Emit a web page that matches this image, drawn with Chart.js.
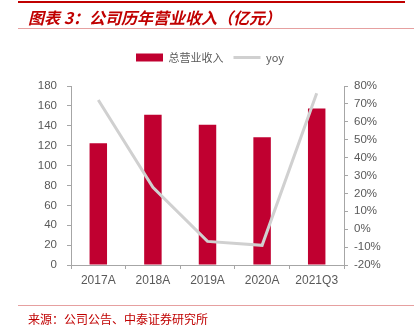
<!DOCTYPE html>
<html>
<head>
<meta charset="utf-8">
<script src="https://cdn.jsdelivr.net/npm/chart.js@4/dist/chart.umd.min.js"></script>
<style>
  html, body { margin: 0; padding: 0; background: #fff; }
  #wrap { position: relative; width: 418px; height: 332px; overflow: hidden; }
  #chart-box { position: absolute; left: 0; top: 0; width: 418px; height: 332px; }
  .rule { position: absolute; left: 18px; }
  #top-rule { top: 1px; width: 387px; height: 2px; background: #C00000; }
  #title-rule { top: 28px; width: 396px; height: 1px; background: #E6A0A0; }
  #foot-rule { top: 305px; width: 396px; height: 1px; background: #E6A0A0; }
  #title {
    position: absolute; left: 28px; top: 5px;
    font-family: "Noto Sans CJK SC", sans-serif; font-size: 16px;
    font-weight: bold; font-style: italic; color: #C00000; white-space: nowrap;
  }
  #source {
    position: absolute; left: 28px; top: 310px;
    font-family: "Noto Sans CJK SC", sans-serif; font-size: 12px;
    color: #C00000; white-space: nowrap;
  }
</style>
</head>
<body>
<div id="wrap">
  <div id="chart-box"><canvas id="revenue-chart"></canvas></div>
  <div class="rule" id="top-rule"></div>
  <div id="title">图表 3：公司历年营业收入（亿元）</div>
  <div class="rule" id="title-rule"></div>
  <div class="rule" id="foot-rule"></div>
  <div id="source">来源：公司公告、中泰证券研究所</div>
</div>
<script>
const years = ["2017A", "2018A", "2019A", "2020A", "2021Q3"];
const revenue = [122.5, 151, 141, 128.5, 157.5];
const yoy = [72.2, 23.4, -6.8, -9.0, 75.9];

const axisGray = "#A6A6A6";
const labelGray = "#595959";
const barRed = "#C00030";
const lineGray = "#D0D0D0";

// extra room between legend and plot area
const legendGap = {
  id: "legendGap",
  beforeInit(chart) {
    const fit = chart.legend.fit;
    chart.legend.fit = function () {
      fit.call(this);
      this.height += 13;
    };
  },
};

const ctx = document.getElementById("revenue-chart");

const chart = new Chart(ctx, {
  type: "bar",
  data: {
    labels: years,
    datasets: [
      {
        type: "line",
        label: "yoy",
        data: yoy,
        yAxisID: "y1",
        borderColor: lineGray,
        backgroundColor: lineGray,
        borderWidth: 3,
        pointRadius: 0,
        tension: 0,
        order: 0,
      },
      {
        label: "总营业收入",
        data: revenue,
        yAxisID: "y",
        backgroundColor: barRed,
        barPercentage: 0.32,
        categoryPercentage: 1,
        order: 1,
      },
    ],
  },
  plugins: [legendGap],
  options: {
    responsive: true,
    maintainAspectRatio: false,
    animation: false,
    layout: {
      padding: { left: 26, right: 24, top: 42, bottom: 37 },
    },
    plugins: {
      legend: {
        reverse: true,
        labels: {
          color: labelGray,
          font: { size: 11, family: "Noto Sans CJK SC" },
          usePointStyle: true,
          pointStyleWidth: 27,
          boxWidth: 27,
          boxHeight: 8,
          padding: 10,
          generateLabels: (chart) => {
            const items = Chart.defaults.plugins.legend.labels.generateLabels(chart);
            items.forEach((it) => {
              if (it.text === "yoy") {
                it.strokeStyle = lineGray;
                it.lineWidth = 3;
                it.pointStyle = "line";
              } else {
                it.fillStyle = barRed;
                it.lineWidth = 0;
                it.pointStyle = "rect";
              }
            });
            return items;
          },
        },
      },
      tooltip: { enabled: false },
    },
    scales: {
      x: {
        grid: {
          display: true,
          drawOnChartArea: false,
          tickLength: 4,
          color: axisGray,
        },
        border: { color: axisGray },
        ticks: {
          color: labelGray,
          font: { size: 12, family: "Liberation Sans" },
          padding: 4,
        },
        afterFit: (scale) => { scale.height = 30; },
      },
      y: {
        position: "left",
        min: 0,
        max: 180,
        grid: {
          drawOnChartArea: false,
          tickLength: 4,
          color: axisGray,
        },
        border: { color: axisGray },
        ticks: {
          stepSize: 20,
          color: labelGray,
          font: { size: 11.5, family: "Liberation Sans" },
          padding: 10,
        },
        afterFit: (scale) => { scale.width = 45; },
      },
      y1: {
        position: "right",
        min: -20,
        max: 80,
        grid: {
          drawOnChartArea: false,
          tickLength: 4,
          color: axisGray,
        },
        border: { color: axisGray },
        ticks: {
          stepSize: 10,
          color: labelGray,
          font: { size: 11.5, family: "Liberation Sans" },
          padding: 6,
          callback: (v) => v + "%",
        },
        afterFit: (scale) => { scale.width = 50; },
      },
    },
  },
});
</script>
</body>
</html>
